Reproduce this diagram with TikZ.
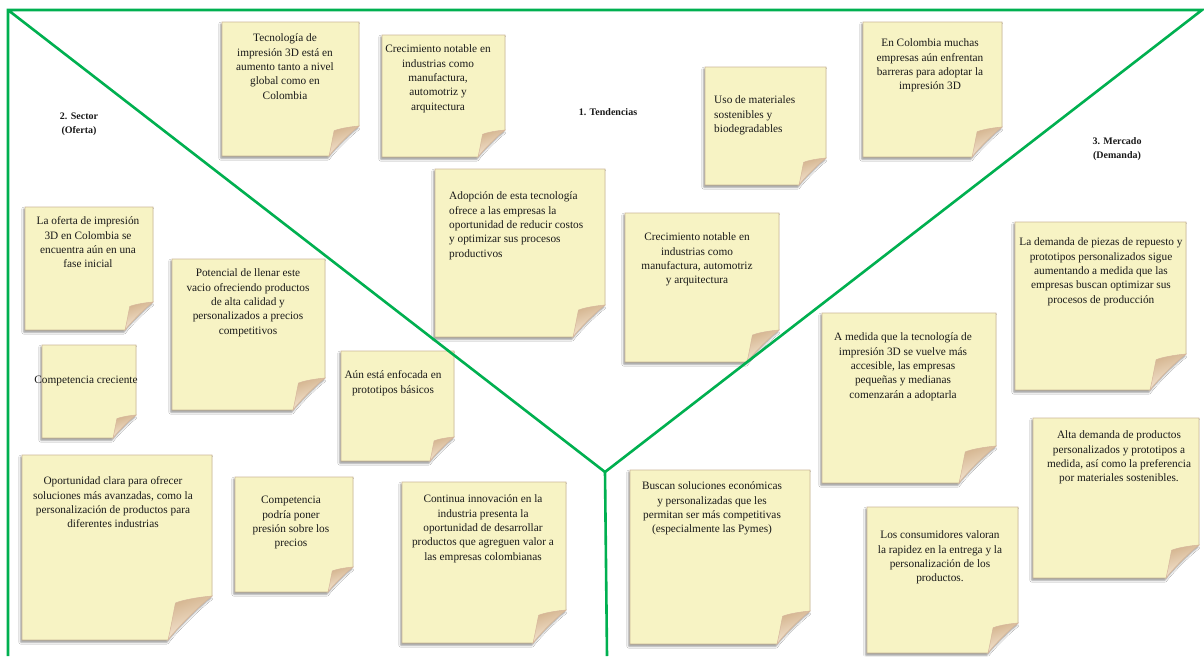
\documentclass[tikz,border=0pt]{standalone}
\usepackage{fontspec}
\setmainfont{Liberation Serif}
\usetikzlibrary{shadows.blur}
\definecolor{lgreen}{RGB}{0,176,80}
\definecolor{notefill}{RGB}{247,243,196}
\definecolor{noteborder}{RGB}{204,184,152}
\definecolor{flapdark}{RGB}{212,180,142}
\definecolor{flaplight}{RGB}{250,238,222}
\definecolor{flapborder}{RGB}{214,182,156}
\newcommand{\snote}[5]{%
  \path[notebody] (#1,#2) -- (#3,#2) -- (#3,#4-#5)
     .. controls (#3-0.25*#5,#4-0.82*#5) and (#3-0.82*#5,#4-0.25*#5) .. (#3-#5,#4)
     -- (#1,#4) -- cycle;
  \path[noteflap] (#3,#4-#5)
     .. controls (#3-0.35*#5,#4-0.97*#5) and (#3-0.7*#5,#4-0.9*#5) .. (#3-0.83*#5,#4-0.84*#5)
     .. controls (#3-0.88*#5,#4-0.6*#5) and (#3-0.93*#5,#4-0.3*#5) .. (#3-#5,#4)
     .. controls (#3-0.82*#5,#4-0.25*#5) and (#3-0.25*#5,#4-0.82*#5) .. (#3,#4-#5) -- cycle;
}
\begin{document}
\begin{tikzpicture}[x=1pt,y=-1pt,
  notebody/.style={fill=notefill, draw=noteborder, line width=0.7pt,
     blur shadow={shadow xshift=-1.2pt, shadow yshift=-2.2pt, shadow opacity=45, shadow blur radius=2pt}},
  noteflap/.style={left color=flapdark, right color=flaplight, shading angle=20,
     draw=flapborder, line width=0.5pt},
  ntext/.style={font=\fontsize{11.3}{14.4}\selectfont, align=center, inner sep=0pt, anchor=north, text=black!90},
  ltext/.style={ntext, align=left, anchor=north west},
  lab/.style={font=\fontsize{10}{14}\selectfont\bfseries, align=center, inner sep=0pt, text=black!90},
  gline/.style={draw=lgreen, line width=2.6pt, line join=miter}
]
\useasboundingbox (0,0) rectangle (1204,656);
\fill[white] (0,0) rectangle (1204,656);

% notes
\snote{222}{22}{359}{156}{30}
\node[ntext] (n1) at (285,31.4) {\strut Tecnología de\\impresión 3D está en\\aumento tanto a nivel\\global como en\\Colombia};

\snote{382}{35}{505}{157}{27}
\node[ntext] (n2) at (438,42.4) {\strut Crecimiento notable en\\industrias como\\manufactura,\\automotriz y\\arquitectura};

\snote{705}{67}{826}{185}{27}
\node[ltext] (n4) at (714,93.4) {\strut Uso de materiales\\sostenibles y\\biodegradables};

\snote{863}{22}{1002}{157}{30}
\node[ntext] (n5) at (930,36.4) {\strut En Colombia muchas\\empresas aún enfrentan\\barreras para adoptar la\\impresión 3D};

\snote{25}{207}{153}{330}{28}
\node[ntext] (n8) at (88,214.4) {\strut La oferta de impresión\\3D en Colombia se\\encuentra aún en una\\fase inicial};

\snote{172}{259}{325}{410}{32}
\node[ntext] (n9) at (248,266.4) {\strut Potencial de llenar este\\vacio ofreciendo productos\\de alta calidad y\\personalizados a precios\\competitivos};

\snote{42}{345}{136}{438}{23}
\node[ntext] (n10) at (86,373.4) {\strut Competencia creciente};

\snote{341}{351}{454}{461}{24}
\node[ntext] (n11) at (393,368.4) {\strut Aún está enfocada en\\prototipos básicos};

\snote{435}{169}{605}{337}{32}
\node[ltext] (n12) at (449,189.4) {\strut Adopción de esta tecnología\\ofrece a las empresas la\\oportunidad de reducir costos\\y optimizar sus procesos\\productivos};

\snote{625}{213}{779}{362}{32}
\node[ntext] (n13) at (697,230.4) {\strut Crecimiento notable en\\industrias como\\manufactura, automotriz\\y arquitectura};

\snote{822}{313}{996}{483}{37}
\node[ntext] (n14) at (903,330.4) {\strut A medida que la tecnología de\\impresión 3D se vuelve más\\accesible, las empresas\\pequeñas y medianas\\comenzarán a adoptarla};

\snote{1015}{222}{1186}{390}{36}
\node[ntext] (n15) at (1101,235.4) {\strut La demanda de piezas de repuesto y\\prototipos personalizados sigue\\aumentando a medida que las\\empresas buscan optimizar sus\\procesos de producción};

\snote{1033}{418}{1199}{578}{33}
\node[ntext] (n16) at (1119,428.4) {\strut Alta demanda de productos\\personalizados y prototipos a\\medida, así como la preferencia\\por materiales sostenibles.};

\snote{22}{455}{212}{640}{44}
\node[ntext] (n17) at (113,474.4) {\strut Oportunidad clara para ofrecer\\soluciones más avanzadas, como la\\personalización de productos para\\diferentes industrias};

\snote{235}{477}{353}{592}{25}
\node[ntext] (n18) at (291,493.4) {\strut Competencia\\podría poner\\presión sobre los\\precios};

\snote{402}{482}{566}{643}{33}
\node[ntext] (n19) at (483,492.4) {\strut Continua innovación en la\\industria presenta la\\oportunidad de desarrollar\\productos que agreguen valor a\\las empresas colombianas};

\snote{630}{470}{810}{644}{33}
\node[ntext] (n20) at (712,479.4) {\strut Buscan soluciones económicas\\y personalizadas que les\\permitan ser más competitivas\\(especialmente las Pymes)};

\snote{867}{507}{1018}{653}{30}
\node[ntext] (n21) at (940,528.4) {\strut Los consumidores valoran\\la rapidez en la entrega y la\\personalización de los\\productos.};

% labels
\node[lab] (l1) at (608,112.5) {1. Tendencias};
\node[lab] (l2) at (79,124) {2. Sector\\(Oferta)};
\node[lab] (l3) at (1117,149.5) {3. Mercado\\(Demanda)};

% green frame
\coordinate (TL) at (8,10);
\coordinate (TR) at (1202,10);
\coordinate (C) at (605,472);
\coordinate (B) at (607,656);
\coordinate (BL) at (8,656);
\draw[gline] (BL) -- (TL) -- (TR) -- (C) -- (TL);
\draw[gline] (C) -- (B);
\end{tikzpicture}
\end{document}
